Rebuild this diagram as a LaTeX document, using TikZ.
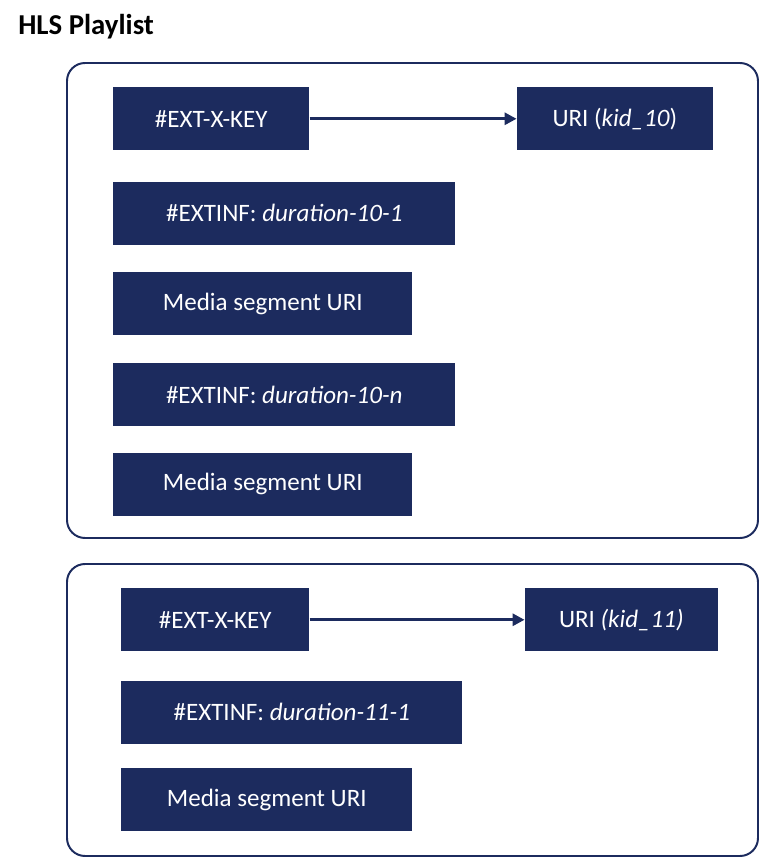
\documentclass[tikz,border=0pt]{standalone}
\usepackage{fontspec}
\setmainfont{Carlito}
\usetikzlibrary{arrows.meta,positioning}
\definecolor{navy}{HTML}{1C2B5E}
\tikzset{
  tagbox/.style={
    rectangle, fill=navy, text=white,
    minimum width=#1, minimum height=1.575cm,
    font=\fontsize{17.8}{21}\selectfont, inner sep=0pt
  },
  tagbox/.default=4.9cm,
  groupframe/.style={draw=navy, line width=1.4pt, rounded corners=0.45cm},
  keyarrow/.style={-{Triangle[length=8.5pt,width=8.5pt]}, navy, line width=2.1pt},
  titlenode/.style={font=\fontsize{20.5}{24}\selectfont\bfseries, inner sep=0pt}
}

\begin{document}
\begin{tikzpicture}
\useasboundingbox (0,0) rectangle (18.975,-21.45);

% Title
\node[titlenode, anchor=base west] (title) at (0.45,-0.875) {HLS Playlist};

% Frames
\draw[groupframe] (1.675,-1.575) rectangle (18.95,-13.45);
\draw[groupframe] (1.675,-14.1) rectangle (18.95,-21.4);

% FIRST GROUP: kid_10
\node[tagbox, anchor=north west] (key10) at (2.825,-2.175) {\#EXT-X-KEY};
\node[tagbox, right=5.175cm of key10] (kid10) {URI (\textit{kid\_10})};
\node[tagbox=8.55cm, below=0.775cm of key10.south west, anchor=north west] (inf10a) {\#EXTINF: \textit{duration-10-1}};
\node[tagbox=7.475cm, below=0.675cm of inf10a.south west, anchor=north west] (seg10a) {Media segment URI};
\node[tagbox=8.55cm, below=0.675cm of seg10a.south west, anchor=north west] (inf10n) {\#EXTINF: \textit{duration-10-n}};
\node[tagbox=7.475cm, below=0.65cm of inf10n.south west, anchor=north west] (seg10n) {Media segment URI};

\draw[keyarrow] (key10) -- (kid10);

% SECOND GROUP: kid_11
\node[tagbox=4.7cm, anchor=north west] (key11) at (3.025,-14.7) {\#EXT-X-KEY};
\node[tagbox=4.825cm, right=5.375cm of key11] (kid11) {URI \textit{(kid\_11)}};
\node[tagbox=8.525cm, below=0.725cm of key11.south west, anchor=north west] (inf11a) {\#EXTINF: \textit{duration-11-1}};
\node[tagbox=7.275cm, below=0.6cm of inf11a.south west, anchor=north west] (seg11a) {Media segment URI};

\draw[keyarrow] (key11) -- (kid11);

\end{tikzpicture}
\end{document}
